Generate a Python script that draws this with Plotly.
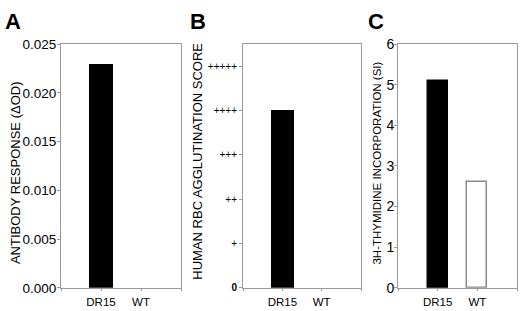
import plotly.graph_objects as go

categories = ["DR15", "WT"]
antibody_response = [0.023, 0.0]
agglutination_score = [4, 0]
thymidine_si = [5.1, 2.6]
score_ticks = ["0", "+", "++", "+++", "++++", "+++++"]

W, H = 520, 311
FONT = "Liberation Sans, Arial, sans-serif"
AX = "#9a9a9a"

def px(x):
    return x / W

def py(y):
    return (H - y) / H

ydom = [py(295), py(38)]
boxes = [(61, 181), (243, 361), (398, 517)]
xpos = [0, 1]

fig = go.Figure()

fig.add_trace(go.Bar(x=xpos, y=antibody_response, width=0.6, marker=dict(color="black", line=dict(width=0)),
                     xaxis="x", yaxis="y", showlegend=False))
fig.add_trace(go.Bar(x=xpos, y=agglutination_score, width=0.6, marker=dict(color="black", line=dict(width=0)),
                     xaxis="x2", yaxis="y2", showlegend=False))
fig.add_trace(go.Bar(x=xpos, y=thymidine_si, width=0.5,
                     marker=dict(color=["black", "white"], line=dict(color=["black", "#8a8a8a"], width=1.5)),
                     xaxis="x3", yaxis="y3", showlegend=False))

def xaxis(i):
    return dict(domain=[px(boxes[i][0]), px(boxes[i][1])], range=[-1, 2], anchor="y" if i == 0 else f"y{i+1}",
                tickmode="array", tickvals=[-1, 0, 1, 2], ticktext=["", categories[0], categories[1], ""],
                ticks="outside", ticklen=2, tickcolor=AX, showline=True, linecolor=AX, linewidth=1, mirror=True,
                showgrid=False, zeroline=False, ticklabelstandoff=1,
                tickfont=dict(family=FONT, size=11.5, color="black"))

def yaxis(i, **kw):
    d = dict(domain=ydom, anchor="x" if i == 0 else f"x{i+1}", ticks="outside", ticklen=3, tickcolor=AX,
             showline=True, linecolor=AX, linewidth=1, mirror=True, showgrid=False, zeroline=False,
             ticklabelstandoff=-2, tickfont=dict(family=FONT, size=13, color="black"))
    d.update(kw)
    return d

def ytitle(text, x, y, size):
    return dict(text=text, x=px(x), y=py(y), xref="paper", yref="paper", xanchor="center", yanchor="middle",
                textangle=-90, showarrow=False, font=dict(family=FONT, size=size, color="black"))

def letter(text, x):
    return dict(text=f"<b>{text}</b>", x=px(x), y=py(14), xref="paper", yref="paper", xanchor="left",
                yanchor="middle", showarrow=False, font=dict(family=FONT, size=22, color="black"))

fig.update_layout(
    width=W, height=H, margin=dict(l=0, r=0, t=0, b=0),
    paper_bgcolor="white", plot_bgcolor="white", bargap=0,
    xaxis=xaxis(0), xaxis2=xaxis(1), xaxis3=xaxis(2),
    yaxis=yaxis(0, range=[0, 0.025], tickvals=[0, 0.005, 0.01, 0.015, 0.02, 0.025], tickformat=".3f",
                tickfont=dict(family=FONT, size=13.5, color="black")),
    yaxis2=yaxis(1, range=[0, 5.5], tickmode="array", tickvals=[0, 1, 2, 3, 4, 5], ticktext=["<b>0</b>"] + score_ticks[1:],
                 ticklabelstandoff=0, tickfont=dict(family=FONT, size=10, color="black")),
    yaxis3=yaxis(2, range=[0, 6], tickvals=[0, 1, 2, 3, 4, 5, 6], ticklabelstandoff=-3,
                 tickfont=dict(family=FONT, size=14, color="black")),
    annotations=[
        ytitle("ANTIBODY RESPONSE (ΔOD)", 15, 174, 13),
        ytitle("HUMAN RBC AGGLUTINATION SCORE", 198, 162, 13),
        ytitle("3H-THYMIDINE INCORPORATION (SI)", 377, 164, 11.5),
        letter("A", 3), letter("B", 188), letter("C", 366),
    ],
)

fig.write_html("out.html", config={"displayModeBar": False}, post_script="document.body.style.margin='0px';")
